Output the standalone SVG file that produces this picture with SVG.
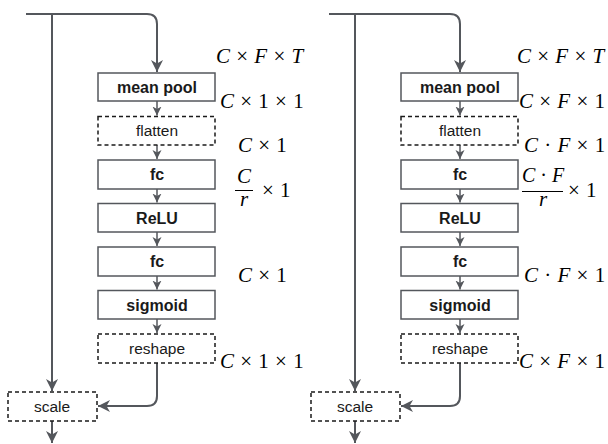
<svg xmlns="http://www.w3.org/2000/svg" width="608" height="444" viewBox="0 0 608 444">
<defs>
<marker id="ah" markerUnits="userSpaceOnUse" markerWidth="14" markerHeight="14" viewBox="0 0 14 14" refX="12" refY="7" orient="auto">
<path d="M0,1 L12,7 L0,13 L3.5,7 Z" fill="#54575c"/>
</marker>
<marker id="as" markerUnits="userSpaceOnUse" markerWidth="10" markerHeight="10" viewBox="0 0 10 10" refX="9" refY="5" orient="auto">
<path d="M0,0.5 L9,5 L0,9.5 L2.5,5 Z" fill="#54575c"/>
</marker>
<style>
.ln{fill:none;stroke:#54575c;stroke-width:2}
.ls{fill:none;stroke:#54575c;stroke-width:1.5}
.bx{fill:#fff;stroke:#54575c;stroke-width:1.5}
.dx{fill:#fff;stroke:#1a1a1a;stroke-width:1.5;stroke-dasharray:4 3}
.tb{font-family:"Liberation Sans",Arial,sans-serif;font-size:16px;font-weight:bold;fill:#1a1a1a;text-anchor:middle}
.tn{font-family:"Liberation Sans",Arial,sans-serif;font-size:15.5px;fill:#1a1a1a;text-anchor:middle}
.m{font-family:"Liberation Serif","Times New Roman",serif;font-size:21px;fill:#000;word-spacing:1px}
.i{font-style:italic}
</style>
</defs>
<g id="connectors">
<path class="ln" d="M26,14 H147 Q157,14 157,24 V72" marker-end="url(#ah)"/>
<path class="ln" d="M52,14 V391" marker-end="url(#ah)"/>
<path class="ls" d="M157,101 V115.5" marker-end="url(#as)"/>
<path class="ls" d="M157,145 V159" marker-end="url(#as)"/>
<path class="ls" d="M157,189 V202.5" marker-end="url(#as)"/>
<path class="ls" d="M157,232 V246" marker-end="url(#as)"/>
<path class="ls" d="M157,276 V289.5" marker-end="url(#as)"/>
<path class="ls" d="M157,319 V333" marker-end="url(#as)"/>
<path class="ln" d="M157,363 V396 Q157,406 147,406 H98" marker-end="url(#ah)"/>
<path class="ln" d="M52,421 V443" marker-end="url(#ah)"/>
<path class="ln" d="M329,14 H450 Q460,14 460,24 V72" marker-end="url(#ah)"/>
<path class="ln" d="M355,14 V391" marker-end="url(#ah)"/>
<path class="ls" d="M460,101 V115.5" marker-end="url(#as)"/>
<path class="ls" d="M460,145 V159" marker-end="url(#as)"/>
<path class="ls" d="M460,189 V202.5" marker-end="url(#as)"/>
<path class="ls" d="M460,232 V246" marker-end="url(#as)"/>
<path class="ls" d="M460,276 V289.5" marker-end="url(#as)"/>
<path class="ls" d="M460,319 V333" marker-end="url(#as)"/>
<path class="ln" d="M460,363 V396 Q460,406 450,406 H401" marker-end="url(#ah)"/>
<path class="ln" d="M355,421 V443" marker-end="url(#ah)"/>
</g>
<g id="L-meanpool"><rect class="bx" x="98" y="73" width="117" height="28"/><text class="tb" x="157" y="92.5">mean pool</text></g>
<g id="L-flatten"><rect class="dx" x="98" y="116.5" width="117" height="28.5"/><text class="tn" x="157" y="136">flatten</text></g>
<g id="L-fc1"><rect class="bx" x="98" y="160" width="117" height="29"/><text class="tb" x="157" y="180">fc</text></g>
<g id="L-relu"><rect class="bx" x="98" y="203.5" width="117" height="28.5"/><text class="tb" x="157" y="223.5">ReLU</text></g>
<g id="L-fc2"><rect class="bx" x="98" y="247" width="117" height="29"/><text class="tb" x="157" y="267">fc</text></g>
<g id="L-sigmoid"><rect class="bx" x="98" y="290.5" width="117" height="28.5"/><text class="tb" x="157" y="310.5">sigmoid</text></g>
<g id="L-reshape"><rect class="dx" x="98" y="334" width="117" height="29"/><text class="tn" x="157" y="353.5">reshape</text></g>
<g id="L-scale"><rect class="dx" x="8" y="392" width="89" height="29"/><text class="tn" x="52" y="411.5">scale</text></g>

<g id="R-meanpool"><rect class="bx" x="401" y="73" width="117" height="28"/><text class="tb" x="460" y="92.5">mean pool</text></g>
<g id="R-flatten"><rect class="dx" x="401" y="116.5" width="117" height="28.5"/><text class="tn" x="460" y="136">flatten</text></g>
<g id="R-fc1"><rect class="bx" x="401" y="160" width="117" height="29"/><text class="tb" x="460" y="180">fc</text></g>
<g id="R-relu"><rect class="bx" x="401" y="203.5" width="117" height="28.5"/><text class="tb" x="460" y="223.5">ReLU</text></g>
<g id="R-fc2"><rect class="bx" x="401" y="247" width="117" height="29"/><text class="tb" x="460" y="267">fc</text></g>
<g id="R-sigmoid"><rect class="bx" x="401" y="290.5" width="117" height="28.5"/><text class="tb" x="460" y="310.5">sigmoid</text></g>
<g id="R-reshape"><rect class="dx" x="401" y="334" width="117" height="29"/><text class="tn" x="460" y="353.5">reshape</text></g>
<g id="R-scale"><rect class="dx" x="311" y="392" width="89" height="29"/><text class="tn" x="355" y="411.5">scale</text></g>

<g id="labels-left">
<text class="m" x="216" y="63"><tspan class="i">C</tspan> × <tspan class="i">F</tspan> × <tspan class="i">T</tspan></text>
<text class="m" x="220" y="108"><tspan class="i">C</tspan> × 1 × 1</text>
<text class="m" x="238" y="152"><tspan class="i">C</tspan> × 1</text>
<text class="m i" x="244" y="183" text-anchor="middle">C</text>
<line x1="235" y1="190.5" x2="253" y2="190.5" stroke="#000" stroke-width="1"/>
<text class="m i" x="244" y="206" text-anchor="middle">r</text>
<text class="m" x="262" y="197">× 1</text>
<text class="m" x="238" y="282"><tspan class="i">C</tspan> × 1</text>
<text class="m" x="220" y="368"><tspan class="i">C</tspan> × 1 × 1</text>
</g>
<g id="labels-right">
<text class="m" x="517" y="63"><tspan class="i">C</tspan> × <tspan class="i">F</tspan> × <tspan class="i">T</tspan></text>
<text class="m" x="519" y="108"><tspan class="i">C</tspan> × <tspan class="i">F</tspan> × 1</text>
<text class="m" x="524" y="152"><tspan class="i">C</tspan> · <tspan class="i">F</tspan> × 1</text>
<text class="m" x="543" y="182" text-anchor="middle" style="font-size:20px;word-spacing:0"><tspan class="i">C</tspan> · <tspan class="i">F</tspan></text>
<line x1="522" y1="191.5" x2="563" y2="191.5" stroke="#000" stroke-width="1"/>
<text class="m i" x="543" y="206" text-anchor="middle">r</text>
<text class="m" x="568" y="197">× 1</text>
<text class="m" x="524" y="282"><tspan class="i">C</tspan> · <tspan class="i">F</tspan> × 1</text>
<text class="m" x="519" y="368"><tspan class="i">C</tspan> × <tspan class="i">F</tspan> × 1</text>
</g>
</svg>
